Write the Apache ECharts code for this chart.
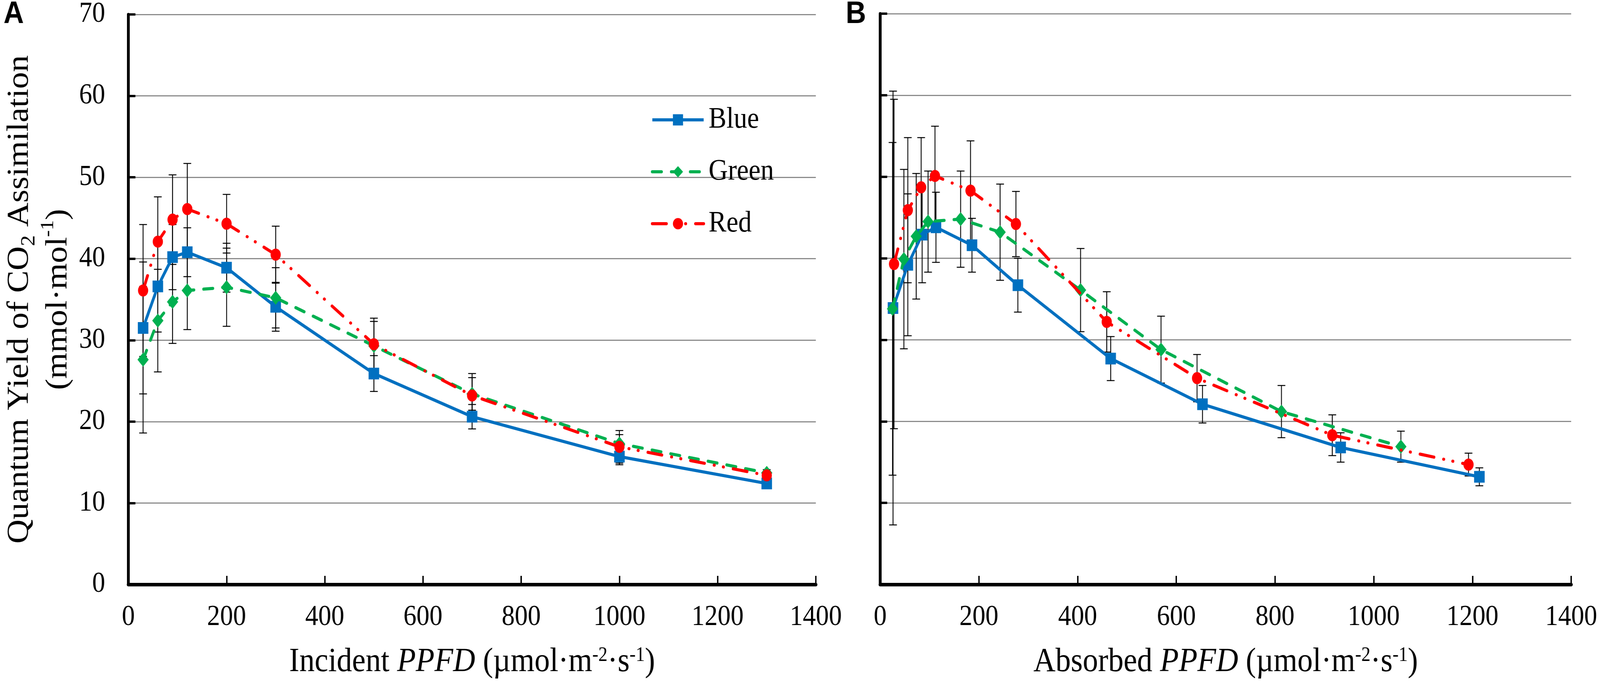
<!DOCTYPE html>
<html>
<head>
<meta charset="utf-8">
<script src="https://cdn.jsdelivr.net/npm/echarts@6/dist/echarts.min.js"></script>
<style>
html,body{margin:0;padding:0;background:#fff;overflow:hidden;}
#c{position:absolute;left:0;top:0;width:4550px;height:1752px;transform-origin:0 0;}
</style>
</head>
<body>
<div id="c"></div>
<script>
// ---------- data ----------
var xTicks = [0, 200, 400, 600, 800, 1000, 1200, 1400];
var yTicks = [0, 10, 20, 30, 40, 50, 60, 70];
var seriesNames = ['Blue', 'Green', 'Red'];

// Panel A: incident PPFD
var incidentPPFD = [30, 60, 90, 120, 200, 300, 500, 700, 1000, 1300];
var blueA = [31.5, 36.6, 40.2, 40.8, 38.9, 34.1, 25.9, 20.6, 15.7, 12.4];
var blueAErr = [8.1, 5.6, 4.0, 3.0, 3.0, 3.0, 2.2, 1.5, 1.0, 0.5];
var greenA = [27.6, 32.4, 34.7, 36.1, 36.5, 35.2, 29.3, 23.4, 17.3, 13.7];
var greenAErr = [9.0, 6.3, 5.1, 4.8, 4.8, 3.7, 3.0, 2.0, 1.1, 0.4];
var redA = [36.1, 42.1, 44.8, 46.1, 44.3, 40.5, 29.5, 23.2, 16.9, 13.4];
var redAErr = [8.1, 5.5, 5.5, 5.6, 3.6, 3.5, 3.2, 2.7, 2.0, 0.4];

// Panel B: absorbed PPFD
var blueAbsPPFD = [26, 56, 85, 113, 186, 279, 467, 653, 933, 1214];
var blueB = [33.9, 39.2, 42.9, 43.8, 41.6, 36.7, 27.7, 22.1, 16.8, 13.2];
var blueBErr = [26.6, 8.7, 5.9, 4.3, 3.3, 3.3, 2.7, 2.3, 1.8, 1.1];
var greenAbsPPFD = [25, 48, 73, 97, 163, 243, 406, 569, 813, 1055];
var greenB = [33.8, 39.9, 42.7, 44.5, 44.8, 43.2, 36.1, 28.8, 21.2, 16.9];
var greenBErr = [20.4, 11.0, 7.7, 6.2, 5.9, 5.9, 5.1, 4.1, 3.2, 1.9];
var redAbsPPFD = [28, 56, 83, 111, 183, 275, 459, 642, 916, 1192];
var redB = [39.3, 45.9, 48.7, 50.1, 48.3, 44.2, 32.2, 25.3, 18.3, 14.7];
var redBErr = [20.2, 8.9, 6.1, 6.1, 6.1, 4.0, 3.7, 2.9, 2.5, 1.4];

// ---------- fit the 4550 x 1752 design into the actual viewport ----------
var el = document.getElementById('c');
var sx = window.innerWidth / 4550, sy = window.innerHeight / 1752;
el.style.transform = 'scale(' + sx + ',' + sy + ')';

// ---------- styles ----------
var SERIF = "'Liberation Serif', 'Times New Roman', serif";
var SANS = "'Liberation Sans', Arial, sans-serif";
var COLORS = {Blue: '#0070C0', Green: '#00B050', Red: '#FF0000'};
var LINE = {
  Blue: {type: 'solid', cap: 'butt'},
  Green: {type: [26, 28], cap: 'round'},
  Red: {type: [40, 28, 0.5, 26, 0.5, 28], cap: 'round'}
};
var SYMBOL = {Blue: ['rect', [30, 30]], Green: ['diamond', [32, 36]], Red: ['circle', [29, 31]]};

function pairs(xs, ys) { return xs.map(function (x, i) { return [x, ys[i]]; }); }
function errData(xs, ys, es) { return xs.map(function (x, i) { return [x, ys[i] - es[i], ys[i] + es[i]]; }); }

function lineSeries(name, idx, xs, ys, z) {
  return {
    name: name, type: 'line', xAxisIndex: idx, yAxisIndex: idx,
    data: pairs(xs, ys), symbol: SYMBOL[name][0], symbolSize: SYMBOL[name][1],
    showAllSymbol: true, z: z,
    itemStyle: {color: COLORS[name]},
    lineStyle: {color: COLORS[name], width: 8, type: LINE[name].type, cap: LINE[name].cap},
    emphasis: {disabled: true}, silent: true, animation: false
  };
}
function errSeries(idx, xs, ys, es) {
  return {
    type: 'custom', xAxisIndex: idx, yAxisIndex: idx, z: 1, silent: true, animation: false,
    data: errData(xs, ys, es),
    encode: {x: 0, y: [1, 2]},
    renderItem: function (params, api) {
      var x = api.value(0);
      var top = api.coord([x, api.value(2)]);
      var bot = api.coord([x, api.value(1)]);
      var w = 11;
      var st = {stroke: '#000', lineWidth: 2.5};
      return {type: 'group', children: [
        {type: 'line', shape: {x1: top[0], y1: top[1], x2: bot[0], y2: bot[1]}, style: st},
        {type: 'line', shape: {x1: top[0] - w, y1: top[1], x2: top[0] + w, y2: top[1]}, style: st},
        {type: 'line', shape: {x1: bot[0] - w, y1: bot[1], x2: bot[0] + w, y2: bot[1]}, style: st}
      ]};
    }
  };
}

function xAxis(idx, title) {
  return {
    type: 'value', gridIndex: idx, min: xTicks[0], max: xTicks[xTicks.length - 1],
    interval: xTicks[1] - xTicks[0],
    axisLine: {show: true, onZero: false, lineStyle: {color: '#000', width: 9}},
    axisTick: {show: true, inside: true, length: 22, lineStyle: {color: '#000', width: 4}},
    axisLabel: {color: '#000', fontFamily: SERIF, fontSize: 74, lineHeight: 74, margin: 48,
      formatter: function (v) { return String(v); }},
    splitLine: {show: false},
    name: title, nameLocation: 'middle', nameGap: 156,
    nameTextStyle: {
      color: '#000', fontFamily: SERIF, fontSize: 87, lineHeight: 87,
      rich: {
        t: {color: '#000', fontFamily: SERIF, fontSize: 87, lineHeight: 87},
        i: {color: '#000', fontFamily: SERIF, fontSize: 87, lineHeight: 87, fontStyle: 'italic'},
        sup: {color: '#000', fontFamily: SERIF, fontSize: 52, lineHeight: 51, verticalAlign: 'top'}
      }
    }
  };
}
function yAxis(idx, showLabels) {
  var ax = {
    type: 'value', gridIndex: idx, min: yTicks[0], max: yTicks[yTicks.length - 1],
    interval: yTicks[1] - yTicks[0],
    axisLine: {show: true, onZero: false, lineStyle: {color: '#000', width: 8}},
    axisTick: {show: true, inside: true, length: 20, lineStyle: {color: '#000', width: 6}},
    axisLabel: {show: showLabels, color: '#000', fontFamily: SERIF, fontSize: 74, lineHeight: 74, margin: 66},
    splitLine: {show: true, lineStyle: {color: '#8C8C8C', width: 3}}
  };
  if (showLabels) {
    ax.name = '{t|Quantum Yield of CO}{sub|2}{t| Assimilation}\n{t|(mmol·mol}{sup|-1}{t|)}';
    ax.nameLocation = 'middle';
    ax.nameRotate = 90;
    ax.nameGap = 144;
    ax.nameTextStyle = {
      color: '#000', fontFamily: SERIF, fontSize: 86, lineHeight: 110, align: 'center',
      rich: {
        t: {color: '#000', fontFamily: SERIF, fontSize: 86, lineHeight: 110},
        sub: {color: '#000', fontFamily: SERIF, fontSize: 56, lineHeight: 60, verticalAlign: 'bottom'},
        sup: {color: '#000', fontFamily: SERIF, fontSize: 52, lineHeight: 77, verticalAlign: 'top'}
      }
    };
  }
  return ax;
}

var option = {
  backgroundColor: '#fff',
  animation: false,
  title: [
    {text: 'A', left: 10, top: -3, padding: 0, textStyle: {fontFamily: SANS, fontWeight: 'bold', fontSize: 80, color: '#000'}},
    {text: 'B', left: 2405, top: -3, padding: 0, textStyle: {fontFamily: SANS, fontWeight: 'bold', fontSize: 80, color: '#000'}}
  ],
  legend: {
    data: seriesNames, orient: 'vertical', left: 1851, top: 269, padding: 0,
    itemWidth: 146, itemHeight: 36, itemGap: 57,
    lineStyle: {width: 8},
    textStyle: {color: '#000', fontFamily: SERIF, fontSize: 76, lineHeight: 36, padding: [0, 0, 0, 9]},
    selectedMode: false
  },
  grid: [
    {left: 347, right: 4550 - 2320, top: 35, bottom: 1752 - 1497, containLabel: false},
    {left: 2503, right: 4550 - 4468, top: 35, bottom: 1752 - 1497, containLabel: false}
  ],
  xAxis: [
    xAxis(0, '{t|Incident }{i|PPFD}{t| (µmol·m}{sup|-2}{t|·s}{sup|-1}{t|)}'),
    xAxis(1, '{t|Absorbed }{i|PPFD}{t| (µmol·m}{sup|-2}{t|·s}{sup|-1}{t|)}')
  ],
  yAxis: [yAxis(0, true), yAxis(1, false)],
  series: [
    errSeries(0, incidentPPFD, blueA, blueAErr),
    errSeries(0, incidentPPFD, greenA, greenAErr),
    errSeries(0, incidentPPFD, redA, redAErr),
    errSeries(1, blueAbsPPFD, blueB, blueBErr),
    errSeries(1, greenAbsPPFD, greenB, greenBErr),
    errSeries(1, redAbsPPFD, redB, redBErr),
    lineSeries('Blue', 0, incidentPPFD, blueA, 3),
    lineSeries('Green', 0, incidentPPFD, greenA, 4),
    lineSeries('Red', 0, incidentPPFD, redA, 5),
    lineSeries('Blue', 1, blueAbsPPFD, blueB, 3),
    lineSeries('Green', 1, greenAbsPPFD, greenB, 4),
    lineSeries('Red', 1, redAbsPPFD, redB, 5)
  ]
};

var chart = echarts.init(el, null, {renderer: 'canvas', width: 4550, height: 1752});
chart.setOption(option);
</script>
</body>
</html>
